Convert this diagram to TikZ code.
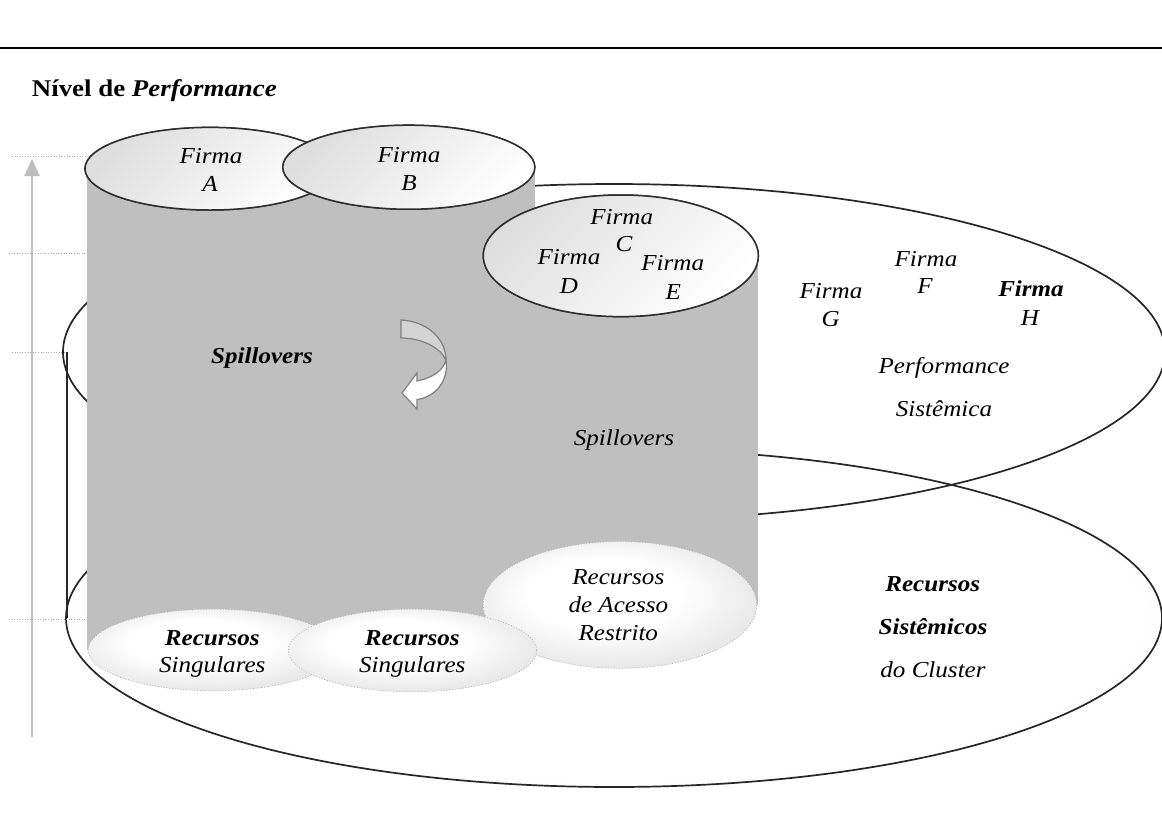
\documentclass[tikz,border=0pt]{standalone}
\usepackage{fontspec}
\usepackage{graphicx}
\setmainfont{Liberation Serif}
\usetikzlibrary{arrows.meta}
\newcommand{\hstr}[1]{\scalebox{1.1}[1]{#1}}
\newcommand{\tstr}[1]{\scalebox{1.12}[1]{#1}}
\pgfdeclareradialshading{bigrad}{\pgfpoint{0bp}{0bp}}{color(0bp)=(white); color(24bp)=(white); color(50bp)=(black!15)}
\pgfdeclareradialshading{smallrad}{\pgfpoint{-4bp}{6bp}}{color(0bp)=(white); color(14bp)=(white); color(50bp)=(black!24)}
\begin{document}
\begin{tikzpicture}[x=1pt,y=-1pt,
  lbl/.style={anchor=base, inner sep=0pt, font=\fontsize{22.8}{27}\selectfont\itshape},
  blbl/.style={lbl, font=\fontsize{22.8}{27}\selectfont\bfseries\itshape},
  guide/.style={black!35, dotted, line width=0.6pt},
  bigell/.style={draw=black!85, line width=1.7pt},
  topell/.style={draw=black!82, line width=1.5pt, top color=black!13, bottom color=white, shading angle=45},
  botell/.style={draw=black!30, dotted, line width=0.8pt, shading=smallrad},
  body/.style={fill=black!25},
  twistback/.style={fill=black!17, draw=black!50, line width=1.2pt},
  twistfront/.style={fill=white, draw=black!50, line width=1.2pt}]
\useasboundingbox (0,0) rectangle (1162,836);
\fill[white] (0,0) rectangle (1162,836);

% top rule and title
\coordinate (ruleL) at (0,48);
\coordinate (ruleR) at (1162,48);
\draw[black, line width=1.6pt] (ruleL) -- (ruleR);
\node[anchor=base west, inner sep=0pt, font=\fontsize{24}{28}\selectfont\bfseries] (title) at (31.7,96) {\tstr{Nível de \textit{Performance}}};

% guide lines and axis
\coordinate (g1a) at (12,156); \coordinate (g1b) at (86.7,156);
\coordinate (g2a) at (9,253);  \coordinate (g2b) at (86.7,253);
\coordinate (g3a) at (12,352); \coordinate (g3b) at (66.7,352);
\coordinate (g4a) at (9,619);  \coordinate (g4b) at (86.7,619);
\draw[guide] (g1a) -- (g1b);
\draw[guide] (g2a) -- (g2b);
\draw[guide] (g3a) -- (g3b);
\coordinate (axB) at (32,737);
\coordinate (axT) at (32,159);
\draw[black!25, line width=2.4pt, -{Triangle[length=17pt,width=15pt]}] (axB) -- (axT);

% lower big ellipse (recursos sistemicos)
\shade[shading=bigrad] (614,618) ellipse [x radius=548, y radius=169];
\draw[bigell] (614,618) ellipse [x radius=548, y radius=169];
\draw[guide] (g4a) -- (g4b);
% outer cylinder side and top (performance sistemica)
\coordinate (sideT) at (66.7,352);
\coordinate (sideB) at (66.7,618);
\draw[bigell] (sideT) -- (sideB);
\draw[bigell] (614,352) ellipse [x radius=551, y radius=168];

% grey bodies
\fill[body] (86.7,168) rectangle (535,650);
\fill[body] (483.3,255.8) rectangle (758.3,605);

% top ellipses
\shade[topell] (210,168.7) ellipse [x radius=125, y radius=41.3];
\draw[topell] (210,168.7) ellipse [x radius=125, y radius=41.3];
\shade[topell] (408.8,167.2) ellipse [x radius=126, y radius=42];
\draw[topell] (408.8,167.2) ellipse [x radius=126, y radius=42];
\shade[topell] (620.8,255.8) ellipse [x radius=137.5, y radius=60.8];
\draw[topell] (620.8,255.8) ellipse [x radius=137.5, y radius=60.8];

% bottom ellipses
\shade[shading=smallrad] (620,605) ellipse [x radius=136.7, y radius=63.3];
\draw[botell] (620,605) ellipse [x radius=136.7, y radius=63.3];
\shade[shading=smallrad] (213.3,650) ellipse [x radius=125, y radius=40.7];
\draw[botell] (213.3,650) ellipse [x radius=125, y radius=40.7];
\shade[shading=smallrad] (412.5,650.5) ellipse [x radius=124.2, y radius=41.2];
\draw[botell] (412.5,650.5) ellipse [x radius=124.2, y radius=41.2];

% twisted arrow
\filldraw[twistback] (401,320) .. controls (426,321) and (446,338) .. (446,360)
   .. controls (440,347) and (421,338) .. (401,338) -- cycle;
\filldraw[twistfront] (446,360) .. controls (449,380) and (436,397) .. (417,399.5)
   -- (417,409) -- (402,393) -- (417,373) -- (417,381)
   .. controls (432,378) and (443,371) .. (446,360) -- cycle;

% texts
\node[lbl] (fA1) at (211,163.3) {\hstr{Firma}};
\node[lbl] (fA2) at (210,191) {\hstr{A}};
\node[lbl] (fB1) at (409,162.3) {\hstr{Firma}};
\node[lbl] (fB2) at (409,190) {\hstr{B}};
\node[lbl] (fC1) at (621.7,224) {\hstr{Firma}};
\node[lbl] (fC2) at (624,251.7) {\hstr{C}};
\node[lbl] (fD1) at (569,264.3) {\hstr{Firma}};
\node[lbl] (fD2) at (569,293.3) {\hstr{D}};
\node[lbl] (fE1) at (672.7,270.7) {\hstr{Firma}};
\node[lbl] (fE2) at (673.3,299.3) {\hstr{E}};
\node[lbl] (fF1) at (926,266) {\hstr{Firma}};
\node[lbl] (fF2) at (925,293) {\hstr{F}};
\node[lbl] (fG1) at (831,298.3) {\hstr{Firma}};
\node[lbl] (fG2) at (830.7,326.7) {\hstr{G}};
\node[blbl] (fH1) at (1031,296.7) {\hstr{Firma}};
\node[lbl] (fH2) at (1030,325) {\hstr{H}};
\node[lbl] (ps1) at (944,373.3) {\hstr{Performance}};
\node[lbl] (ps2) at (944,416) {\hstr{Sistêmica}};
\node[blbl] (sp1) at (262,363) {\hstr{Spillovers}};
\node[lbl] (sp2) at (624,445) {\hstr{Spillovers}};
\node[blbl] (rs1a) at (212.3,645) {\hstr{Recursos}};
\node[lbl] (rs1b) at (212.3,672.7) {\hstr{Singulares}};
\node[blbl] (rs2a) at (412.3,645) {\hstr{Recursos}};
\node[lbl] (rs2b) at (412.3,672.7) {\hstr{Singulares}};
\node[lbl] (ra1) at (618.3,584) {\hstr{Recursos}};
\node[lbl] (ra2) at (618.3,612.7) {\hstr{de Acesso}};
\node[lbl] (ra3) at (618.3,640.7) {\hstr{Restrito}};
\node[blbl] (rc1) at (932.7,591.7) {\hstr{Recursos}};
\node[blbl] (rc2) at (933,634) {\hstr{Sistêmicos}};
\node[lbl] (rc3) at (933,677.3) {\hstr{do Cluster}};
\end{tikzpicture}
\end{document}
